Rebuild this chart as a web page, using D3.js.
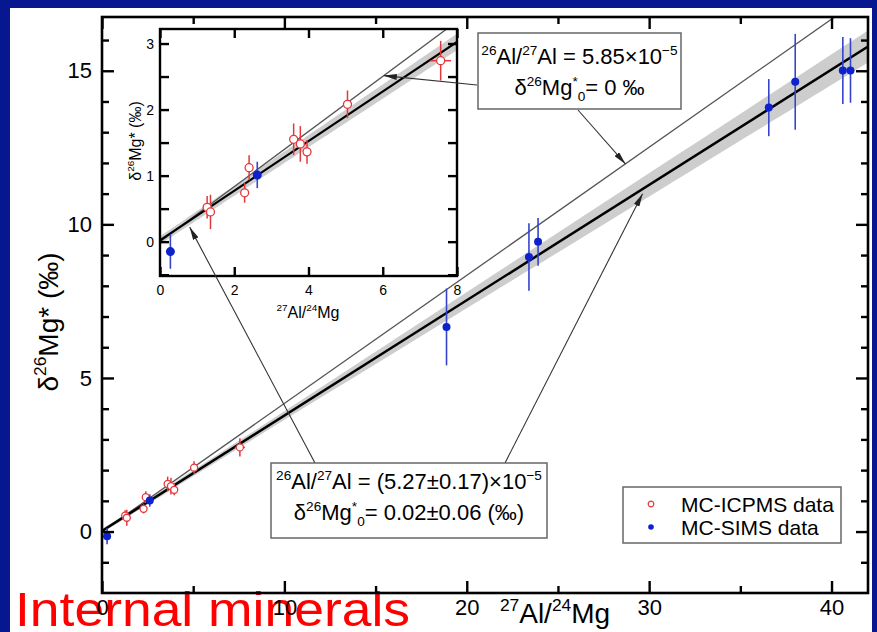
<!DOCTYPE html>
<html>
<head>
<meta charset="utf-8">
<script src="https://cdn.jsdelivr.net/npm/d3@7"></script>
<style>
  body { margin: 0; background: #061790; }
  svg { display: block; }
  text { font-family: "Liberation Sans", Arial, Helvetica, sans-serif; }
</style>
</head>
<body>
<svg id="chart" width="877" height="632"></svg>
<script>
//-----------------------------------------------------//
// Data

// MC-ICPMS data (open red circles)
const icpX    = [1.27, 1.36, 2.28, 2.40, 3.60, 3.78, 3.96, 5.05, 7.56];
const icpY    = [0.52, 0.45, 0.74, 1.12, 1.55, 1.48, 1.36, 2.08, 2.74];
const icpYErr = [0.17, 0.26, 0.15, 0.19, 0.24, 0.27, 0.18, 0.21, 0.30];
const icpXErr = [0, 0, 0, 0, 0, 0, 0, 0, 0.28];

// MC-SIMS data (filled blue circles)
const simsX    = [0.28, 2.62, 18.89, 23.41, 23.91, 36.56, 38.01, 40.62, 41.04];
const simsY    = [-0.15, 1.01, 6.66, 8.94, 9.43, 13.80, 14.64, 15.01, 15.01];
const simsYErr = [0.26, 0.20, 1.25, 1.10, 0.78, 0.93, 1.56, 1.09, 1.05];

// isochron fit and reference line
const fitSlope = 0.3755, fitIntercept = 0.02;
const refSlope = 0.417, refIntercept = 0;
// half width of the grey error envelope, read at a few x values
const bandX    = [0, 10, 20, 30, 42];
const bandHalf = [0.06, 0.14, 0.26, 0.38, 0.52];

// ticks
const mainXMajor = [0, 10, 20, 30, 40];
const mainXMinor = [5, 15, 25, 35];
const mainYMajor = [0, 5, 10, 15];
const mainYMinor = [-1, 1, 2, 3, 4, 6, 7, 8, 9, 11, 12, 13, 14, 16];
const insetXTicks = [0, 2, 4, 6, 8];
const insetYMajor = [0, 1, 2, 3];
const insetYMinor = [-0.5, 0.5, 1.5, 2.5];

// annotation texts
const boxTopLine1 = [["26", "sup"], ["Al/", "n"], ["27", "sup"], ["Al = 5.85×10", "n"], ["−5", "sup"]];
const boxTopLine2 = [["δ", "n"], ["26", "sup"], ["Mg", "n"], ["*", "sup"], ["0", "sub"], ["= 0 ‰", "n"]];
const boxBotLine1 = [["26", "sup"], ["Al/", "n"], ["27", "sup"], ["Al = (5.27±0.17)×10", "n"], ["−5", "sup"]];
const boxBotLine2 = [["δ", "n"], ["26", "sup"], ["Mg", "n"], ["*", "sup"], ["0", "sub"], ["= 0.02±0.06 (‰)", "n"]];
const xLabelParts = [["27", "sup"], ["Al/", "n"], ["24", "sup"], ["Mg", "n"]];
const yLabelParts = [["δ", "n"], ["26", "sup"], ["Mg* (‰)", "n"]];
const legendNames = ["MC-ICPMS data", "MC-SIMS data"];

//-----------------------------------------------------//

const blue = "#0d22cc", blueBar = "#3444cc", red = "#e4373c";

const svg = d3.select("#chart");
const defs = svg.append("defs");

svg.append("rect").attr("width", 877).attr("height", 632).attr("fill", "#061790");
svg.append("rect").attr("x", 10).attr("y", 8).attr("width", 862).attr("height", 624).attr("fill", "#fff");

// slide caption (drawn first so the tick labels stay on top)
svg.append("text").attr("x", 15).attr("y", 626)
  .attr("font-family", "DejaVu Sans Condensed, DejaVu Sans, sans-serif")
  .attr("font-stretch", "condensed")
  .attr("font-size", 49).attr("fill", "#ff0000")
  .attr("textLength", 395).attr("lengthAdjust", "spacingAndGlyphs")
  .text("Internal minerals");

// write text with super / subscripts
function rich(textSel, parts, fs) {
  let off = 0;
  parts.forEach(([t, k]) => {
    const target = k === "sup" ? -0.42 * fs : k === "sub" ? 0.28 * fs : 0;
    textSel.append("tspan")
      .attr("dy", target - off)
      .attr("font-size", k === "n" ? fs : fs * 0.62)
      .text(t);
    off = target;
  });
  return textSel;
}

const bandScale = d3.scaleLinear().domain(bandX).range(bandHalf);

// draws band + lines + points into a panel
function drawPanel(g, x, y, opt) {
  const [x0, x1] = x.domain();
  const xs = d3.range(x0, x1 + 0.001, (x1 - x0) / 40);

  g.append("path")
    .datum(xs)
    .attr("fill", "#cdcdcd")
    .attr("d", d3.area()
      .x(d => x(d))
      .y0(d => y(fitIntercept + fitSlope * d - bandScale(d)))
      .y1(d => y(fitIntercept + fitSlope * d + bandScale(d))));

  g.append("line")
    .attr("x1", x(x0)).attr("y1", y(refIntercept + refSlope * x0))
    .attr("x2", x(x1)).attr("y2", y(refIntercept + refSlope * x1))
    .attr("stroke", "#555").attr("stroke-width", 1.3);

  g.append("line")
    .attr("x1", x(x0)).attr("y1", y(fitIntercept + fitSlope * x0))
    .attr("x2", x(x1)).attr("y2", y(fitIntercept + fitSlope * x1))
    .attr("stroke", "#000").attr("stroke-width", opt.fitWidth);

  // ICPMS error bars and circles
  const icp = icpX.map((v, i) => ({ x: v, y: icpY[i], ey: icpYErr[i], ex: icpXErr[i] }));
  g.selectAll(".icp-ey").data(icp).enter().append("line")
    .attr("x1", d => x(d.x)).attr("x2", d => x(d.x))
    .attr("y1", d => y(d.y - d.ey)).attr("y2", d => y(d.y + d.ey))
    .attr("stroke", red).attr("stroke-width", 1.5);
  g.selectAll(".icp-ex").data(icp.filter(d => d.ex > 0)).enter().append("line")
    .attr("x1", d => x(d.x - d.ex)).attr("x2", d => x(d.x + d.ex))
    .attr("y1", d => y(d.y)).attr("y2", d => y(d.y))
    .attr("stroke", red).attr("stroke-width", 1.5);
  g.selectAll(".icp").data(icp).enter().append("circle")
    .attr("cx", d => x(d.x)).attr("cy", d => y(d.y)).attr("r", opt.r)
    .attr("fill", "#fff").attr("stroke", red).attr("stroke-width", 1.3);

  // SIMS error bars and dots
  const sims = simsX.map((v, i) => ({ x: v, y: simsY[i], ey: simsYErr[i] }));
  g.selectAll(".sims-ey").data(sims).enter().append("line")
    .attr("x1", d => x(d.x)).attr("x2", d => x(d.x))
    .attr("y1", d => y(d.y - d.ey)).attr("y2", d => y(d.y + d.ey))
    .attr("stroke", blueBar).attr("stroke-width", 1.6);
  g.selectAll(".sims").data(sims).enter().append("circle")
    .attr("cx", d => x(d.x)).attr("cy", d => y(d.y)).attr("r", opt.r + 0.5)
    .attr("fill", blue);
}

function tickAxis(g, axis, values, size, labels, fs) {
  const a = g.call(axis.tickValues(values).tickSize(-size).tickPadding(6)
    .tickFormat(labels ? d3.format("d") : ""));
  a.select(".domain").remove();
  a.selectAll(".tick line").attr("stroke", "#000").attr("stroke-width", 2.4);
  a.selectAll(".tick text").attr("font-size", fs).attr("fill", "#000")
    .attr("font-family", "Liberation Sans, Arial, sans-serif");
  return a;
}

//-----------------------------------------------------//
// Main plot

const x = d3.scaleLinear().domain([0, 42]).range([102, 868]);
const y = d3.scaleLinear().domain([-2, 16.75]).range([593, 17]);

defs.append("clipPath").attr("id", "clip-main").append("rect")
  .attr("x", 102).attr("y", 17).attr("width", 766).attr("height", 576);

const main = svg.append("g").attr("clip-path", "url(#clip-main)");
drawPanel(main, x, y, { r: 3.5, fitWidth: 2.5 });

const pBottom = 593, pTop = 17, pLeft = 102, pRight = 868;
tickAxis(svg.append("g").attr("transform", `translate(0,${pBottom})`), d3.axisBottom(x), mainXMajor, 12, true, 22);
tickAxis(svg.append("g").attr("transform", `translate(0,${pBottom})`), d3.axisBottom(x), mainXMinor, 7, false, 22);
tickAxis(svg.append("g").attr("transform", `translate(0,${pTop})`), d3.axisTop(x), mainXMajor, 12, false, 22);
tickAxis(svg.append("g").attr("transform", `translate(0,${pTop})`), d3.axisTop(x), mainXMinor, 7, false, 22);
tickAxis(svg.append("g").attr("transform", `translate(${pLeft},0)`), d3.axisLeft(y), mainYMajor, 12, true, 22)
  .selectAll(".tick text").attr("x", -10);
tickAxis(svg.append("g").attr("transform", `translate(${pLeft},0)`), d3.axisLeft(y), mainYMinor, 7, false, 22);
tickAxis(svg.append("g").attr("transform", `translate(${pRight},0)`), d3.axisRight(y), mainYMajor, 12, false, 22);
tickAxis(svg.append("g").attr("transform", `translate(${pRight},0)`), d3.axisRight(y), mainYMinor, 7, false, 22);

svg.append("rect").attr("x", pLeft).attr("y", pTop).attr("width", pRight - pLeft).attr("height", pBottom - pTop)
  .attr("fill", "none").attr("stroke", "#000").attr("stroke-width", 2.6);

rich(svg.append("text").attr("x", 555).attr("y", 623).attr("text-anchor", "middle"), xLabelParts, 28);
rich(svg.append("text").attr("transform", "translate(58,322) rotate(-90)").attr("text-anchor", "middle"), yLabelParts, 28);

//-----------------------------------------------------//
// Inset

const ix = d3.scaleLinear().domain([0, 8]).range([160, 457]);
const iy = d3.scaleLinear().domain([-0.52, 3.22]).range([276, 29]);

svg.append("rect").attr("x", 160).attr("y", 29).attr("width", 297).attr("height", 247).attr("fill", "#fff");
defs.append("clipPath").attr("id", "clip-inset").append("rect")
  .attr("x", 160).attr("y", 29).attr("width", 297).attr("height", 247);
const inset = svg.append("g").attr("clip-path", "url(#clip-inset)");
drawPanel(inset, ix, iy, { r: 4, fitWidth: 2.2 });

tickAxis(svg.append("g").attr("transform", "translate(0,276)"), d3.axisBottom(ix), insetXTicks, 9, true, 14)
  .selectAll(".tick text").attr("dy", "0.9em");
tickAxis(svg.append("g").attr("transform", "translate(0,29)"), d3.axisTop(ix), insetXTicks, 9, false, 14);
tickAxis(svg.append("g").attr("transform", "translate(160,0)"), d3.axisLeft(iy), insetYMajor, 9, true, 14)
  .selectAll(".tick text").attr("x", -6);
tickAxis(svg.append("g").attr("transform", "translate(160,0)"), d3.axisLeft(iy), insetYMinor, 9, false, 14);
tickAxis(svg.append("g").attr("transform", "translate(457,0)"), d3.axisRight(iy), insetYMajor.concat(insetYMinor), 9, false, 14);

svg.append("rect").attr("x", 160).attr("y", 29).attr("width", 297).attr("height", 247)
  .attr("fill", "none").attr("stroke", "#000").attr("stroke-width", 2.4);

rich(svg.append("text").attr("x", 308).attr("y", 318).attr("text-anchor", "middle"), xLabelParts, 16);
rich(svg.append("text").attr("transform", "translate(141,141) rotate(-90)").attr("text-anchor", "middle"), yLabelParts, 16);

//-----------------------------------------------------//
// Arrows and annotation boxes

defs.append("marker").attr("id", "ah")
  .attr("viewBox", "0 0 13 6").attr("refX", 13).attr("refY", 3)
  .attr("markerWidth", 13).attr("markerHeight", 6)
  .attr("markerUnits", "userSpaceOnUse").attr("orient", "auto")
  .append("path").attr("d", "M0,0L13,3L0,6Z").attr("fill", "#222");

const arrows = [
  { from: [477, 85],  tip: [ix(6.03), iy(refSlope * 6.03)] },
  { from: [578, 110], tip: [x(28.7), y(refSlope * 28.7)] },
  { from: [315, 463], tip: [ix(0.8), iy(0.22)] },
  { from: [505, 463], tip: [x(29.64), y(11.0)] }
];
svg.selectAll(".arrow").data(arrows).enter().append("line")
  .attr("x1", d => d.from[0]).attr("y1", d => d.from[1])
  .attr("x2", d => d.tip[0]).attr("y2", d => d.tip[1])
  .attr("stroke", "#333").attr("stroke-width", 1.1)
  .attr("marker-end", "url(#ah)");

function noteBox(x0, y0, w, h, l1, l2, b1, b2) {
  svg.append("rect").attr("x", x0).attr("y", y0).attr("width", w).attr("height", h)
    .attr("fill", "#fff").attr("stroke", "#666").attr("stroke-width", 1.5);
  rich(svg.append("text").attr("x", x0 + w / 2).attr("y", b1).attr("text-anchor", "middle"), l1, 22);
  rich(svg.append("text").attr("x", x0 + w / 2).attr("y", b2).attr("text-anchor", "middle"), l2, 22);
}
noteBox(478, 33, 203, 76, boxTopLine1, boxTopLine2, 64, 95);
noteBox(271, 463, 276, 75, boxBotLine1, boxBotLine2, 489, 520);

//-----------------------------------------------------//
// Legend

svg.append("rect").attr("x", 623).attr("y", 487).attr("width", 218).attr("height", 56)
  .attr("fill", "#fff").attr("stroke", "#666").attr("stroke-width", 1.5);
const leg = svg.selectAll(".leg").data(legendNames).enter().append("g")
  .attr("transform", (d, i) => `translate(651,${504 + i * 23})`);
leg.append("circle").attr("r", 2.8)
  .attr("fill", (d, i) => i === 0 ? "#fff" : blue)
  .attr("stroke", (d, i) => i === 0 ? red : "none").attr("stroke-width", 1.2);
leg.append("text").attr("x", 30).attr("y", 7.5).attr("font-size", 21).text(d => d);
</script>
</body>
</html>
